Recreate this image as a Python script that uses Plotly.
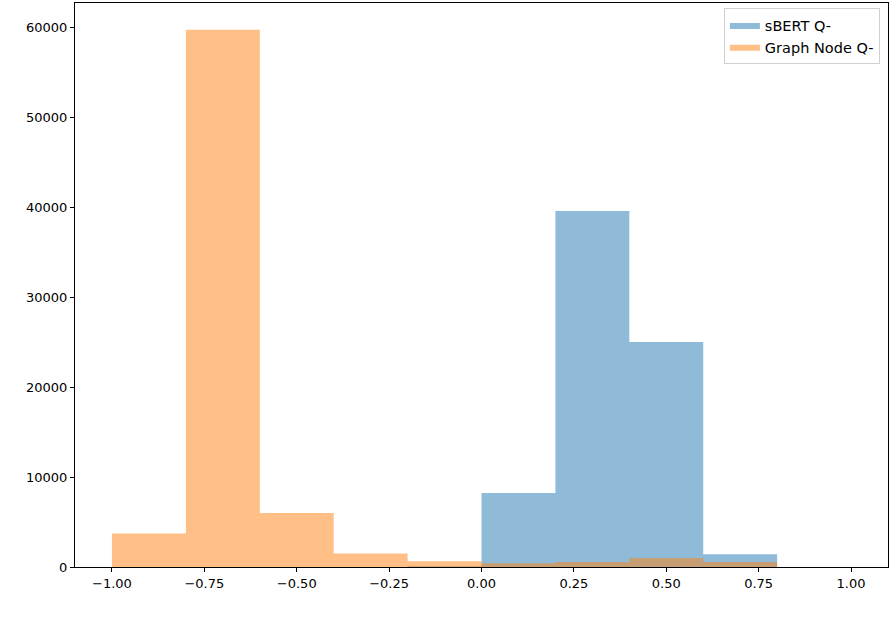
import plotly.graph_objects as go

bin_edges = [-1.0, -0.8, -0.6, -0.4, -0.2, 0.0, 0.2, 0.4, 0.6, 0.8]
sbert_counts = [0, 0, 0, 0, 80, 8220, 39550, 25000, 1410]
graph_counts = [3710, 59700, 6000, 1490, 630, 410, 560, 1000, 560]
x_ticks = [-1.0, -0.75, -0.5, -0.25, 0.0, 0.25, 0.5, 0.75, 1.0]
y_ticks = [0, 10000, 20000, 30000, 40000, 50000, 60000]


def step(counts):
    return bin_edges, list(counts) + [counts[-1]]


fig = go.Figure()
for name, counts, color in [("sBERT Q-", sbert_counts, "rgba(31,119,180,0.5)"),
                            ("Graph Node Q-", graph_counts, "rgba(255,127,14,0.5)")]:
    xs, ys = step(counts)
    fig.add_trace(go.Scatter(x=xs, y=ys, mode="lines", line=dict(shape="hv", width=0, color=color),
                             fill="tozeroy", fillcolor=color, name=name, hoverinfo="skip"))

fig.update_layout(
    width=890, height=618,
    plot_bgcolor="white", paper_bgcolor="white",
    margin=dict(l=75, r=2, t=3, b=51),
    font=dict(family="DejaVu Sans", size=13, color="black"),
    legend=dict(x=0.99, y=0.991, xanchor="right", yanchor="top",
                bordercolor="#d0d0d0", borderwidth=1, bgcolor="rgba(255,255,255,0.8)",
                font=dict(size=14.5), itemwidth=30),
    showlegend=True,
)
fig.update_xaxes(range=[-1.1, 1.1], tickvals=x_ticks,
                 ticktext=[f"{v:.2f}".replace("-", "\u2212") for v in x_ticks],
                 ticks="outside", ticklen=4, tickcolor="black", showgrid=False, zeroline=False,
                 showline=True, linecolor="black", linewidth=1, mirror=True, automargin=False)
fig.update_yaxes(range=[0, 62670], tickvals=y_ticks, ticktext=[str(v) for v in y_ticks],
                 ticks="outside", ticklen=4, tickcolor="black", showgrid=False, zeroline=False,
                 showline=True, linecolor="black", linewidth=1, mirror=True, automargin=False)

fig.write_html("out.html", config={"displayModeBar": False},
               post_script="document.body.style.margin='0';")
